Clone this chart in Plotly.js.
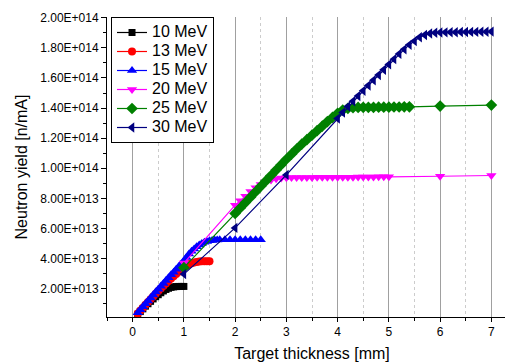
<!DOCTYPE html>
<html>
<head>
<meta charset="utf-8">
<script src="https://cdn.plot.ly/plotly-3.0.1.min.js"></script>
<style>
html,body{margin:0;padding:0;overflow:hidden;background:#fff;}
#chart{width:530px;height:364px;}
</style>
</head>
<body>
<div id="chart"></div>
<script>
// Data (y values in units of 1E+013 n/mA)
var thick10 = [0.1,0.15,0.2,0.25,0.3,0.35,0.4,0.45,0.5,0.55,0.6,0.65,0.7,0.75,0.8,0.85,0.9,0.95,1.0];
var yield10 = [0.3,0.48,0.66,0.84,1.0,1.16,1.32,1.47,1.6,1.73,1.85,1.95,2.03,2.09,2.12,2.14,2.15,2.15,2.15];

var thick13 = [0.1,0.15,0.2,0.25,0.3,0.35,0.4,0.45,0.5,0.55,0.6,0.65,0.7,0.75,0.8,0.85,0.9,0.95,1.0,1.05,1.1,1.15,1.2,1.25,1.3,1.35,1.4,1.45,1.5];
var yield13 = [0.35,0.55,0.74,0.93,1.12,1.3,1.48,1.66,1.84,2.01,2.18,2.35,2.51,2.67,2.83,2.98,3.13,3.28,3.42,3.53,3.62,3.69,3.74,3.78,3.8,3.82,3.83,3.83,3.83];

var thick15 = [0.1,0.15,0.2,0.25,0.3,0.35,0.4,0.45,0.5,0.55,0.6,0.65,0.7,0.75,0.8,0.85,0.9,0.95,1.0,1.05,1.1,1.15,1.2,1.25,1.3,1.35,1.4,1.45,1.5,1.55,1.6,1.65,1.7,1.8,1.9,2.0,2.1,2.2,2.3,2.4,2.5];
var yield15 = [0.4,0.6,0.8,1.0,1.19,1.39,1.58,1.78,1.97,2.16,2.35,2.54,2.73,2.92,3.1,3.29,3.47,3.66,3.85,4.08,4.3,4.48,4.64,4.78,4.9,5.0,5.08,5.14,5.18,5.21,5.23,5.24,5.25,5.25,5.25,5.25,5.25,5.25,5.25,5.25,5.26];

var thick20 = [1.0,2.0,2.1,2.2,2.3,2.4,2.5,2.6,2.7,2.8,2.9,3.0,3.1,3.2,3.3,3.4,3.5,3.6,3.7,3.8,3.9,4.0,4.1,4.2,4.3,4.4,4.5,4.6,4.7,4.8,4.9,5.0,6.0,7.0];
var yield20 = [3.7,7.55,7.85,8.15,8.45,8.7,8.92,9.1,9.22,9.3,9.35,9.37,9.38,9.38,9.39,9.39,9.39,9.4,9.4,9.4,9.4,9.41,9.41,9.41,9.41,9.42,9.42,9.42,9.42,9.43,9.43,9.43,9.47,9.52];

var thick25 = [1.0,2.0,2.1,2.2,2.3,2.4,2.5,2.6,2.7,2.8,2.9,3.0,3.1,3.2,3.3,3.4,3.5,3.6,3.7,3.8,3.9,4.0,4.1,4.2,4.3,4.4,4.5,4.6,4.7,4.8,4.9,5.0,5.1,5.2,5.3,5.4,6.0,7.0];
var yield25 = [3.4,7.0,7.36,7.72,8.08,8.44,8.8,9.16,9.52,9.88,10.24,10.6,10.94,11.28,11.6,11.9,12.2,12.5,12.8,13.1,13.38,13.65,13.87,13.98,14.02,14.04,14.05,14.05,14.05,14.06,14.06,14.06,14.07,14.07,14.08,14.08,14.13,14.2];

var thick30 = [1.0,2.0,3.0,4.0,4.1,4.2,4.3,4.4,4.5,4.6,4.7,4.8,4.9,5.0,5.1,5.2,5.3,5.4,5.5,5.6,5.7,5.8,5.9,6.0,6.1,6.2,6.3,6.4,6.5,6.6,6.7,6.8,6.9,7.0];
var yield30 = [2.97,6.04,9.56,13.3,13.7,14.1,14.45,14.8,15.15,15.5,15.85,16.2,16.55,16.9,17.25,17.6,17.9,18.2,18.45,18.7,18.85,18.95,19.0,19.02,19.03,19.04,19.04,19.05,19.05,19.06,19.06,19.07,19.07,19.08];

var seriesNames = ["10 MeV","13 MeV","15 MeV","20 MeV","25 MeV","30 MeV"];
var yTickVals = [2,4,6,8,10,12,14,16,18,20];
var yTickText = ["2.00E+013","4.00E+013","6.00E+013","8.00E+013","1.00E+014","1.20E+014","1.40E+014","1.60E+014","1.80E+014","2.00E+014"];
var xTickVals = [0,1,2,3,4,5,6,7];
var xTickText = ["0","1","2","3","4","5","6","7"];

var xs = [thick10,thick13,thick15,thick20,thick25,thick30];
var ys = [yield10,yield13,yield15,yield20,yield25,yield30];
var colors = ["#000000","#ff0000","#0000ff","#ff00ff","#008000","#000080"];
var symbols = ["square","circle","triangle-up","triangle-down","diamond","triangle-left"];
var sizes = [7,8,9,9,9,9];

var traces = [];
for (var i = 0; i < 6; i++) {
  traces.push({
    x: xs[i], y: ys[i],
    name: '<span style="font-size:16px">' + seriesNames[i] + '</span>',
    type: 'scatter', mode: 'lines+markers',
    line: {color: colors[i], width: 1.2},
    marker: {color: colors[i], symbol: symbols[i], size: sizes[i], line: {width: 0}}
  });
}

var layout = {
  width: 530, height: 364,
  margin: {l: 107, r: 13.4, t: 17, b: 47},
  paper_bgcolor: '#ffffff', plot_bgcolor: '#ffffff',
  font: {family: 'Arial, "Liberation Sans", sans-serif', color: '#000', size: 12},
  showlegend: true,
  legend: {
    x: 0.0098, y: 1, xanchor: 'left', yanchor: 'top',
    bgcolor: '#ffffff', bordercolor: '#000000', borderwidth: 1,
    font: {size: 12, family: 'Arial, "Liberation Sans", sans-serif'},
    tracegroupgap: 0
  },
  xaxis: {
    range: [-0.5, 7.5],
    tickmode: 'array', tickvals: xTickVals, ticktext: xTickText,
    ticks: 'outside', ticklen: 4, tickwidth: 1, tickcolor: '#000',
    showline: true, linecolor: '#000', linewidth: 1,
    showgrid: true, gridcolor: '#a0a0a0', gridwidth: 1.2,
    zeroline: false,
    tickfont: {size: 12},
    minor: {dtick: 0.5, tick0: 0, ticks: 'outside', ticklen: 3, tickcolor: '#000',
            showgrid: true, gridcolor: '#cccccc', griddash: 'dot', gridwidth: 1},
    title: {text: 'Target thickness [mm]', font: {size: 16}, standoff: 9}
  },
  yaxis: {
    range: [0.12, 20.05],
    tickmode: 'array', tickvals: yTickVals, ticktext: yTickText,
    ticks: 'outside', ticklen: 5, tickwidth: 1, tickcolor: '#000',
    showline: true, linecolor: '#000', linewidth: 1,
    showgrid: false, zeroline: false,
    tickfont: {size: 12},
    minor: {dtick: 1, tick0: 0, ticks: 'outside', ticklen: 3, tickcolor: '#000', showgrid: false},
    title: {text: 'Neutron yield [n/mA]', font: {size: 16}, standoff: 8}
  }
};

Plotly.newPlot('chart', traces, layout, {displayModeBar: false, staticPlot: true});
</script>
</body>
</html>
